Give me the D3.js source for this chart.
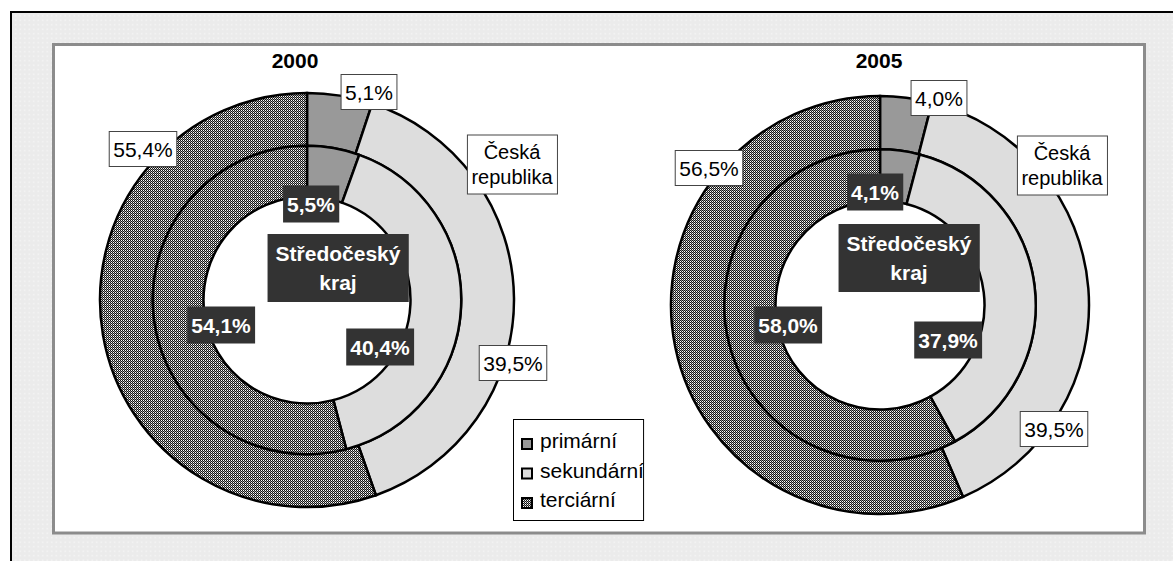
<!DOCTYPE html>
<html>
<head>
<meta charset="utf-8">
<script src="https://cdn.jsdelivr.net/npm/d3@7"></script>
<style>
  body { margin: 0; background: #fff; }
  text { font-family: "Liberation Sans", Arial, sans-serif; }
</style>
</head>
<body>
<svg width="1173" height="561"></svg>
<script>
var categories = ["primární", "sekundární", "terciární"];
var years = ["2000", "2005"];
var czech2000 = [5.1, 39.5, 55.4];
var region2000 = [5.5, 40.4, 54.1];
var czech2005 = [4.0, 39.5, 56.5];
var region2005 = [4.1, 37.9, 58.0];
var outerName = ["Česká", "republika"];
var innerName = ["Středočeský", "kraj"];

(function() {
    var svg = d3.select("svg");
    var defs = svg.append("defs");

    // dotted grey chart background
    var bg = defs.append("pattern").attr("id", "bgdots")
        .attr("patternUnits", "userSpaceOnUse").attr("width", 4.5).attr("height", 4.5);
    bg.append("rect").attr("width", 4.5).attr("height", 4.5).attr("fill", "#ebebeb");
    bg.append("rect").attr("x", 1.5).attr("y", 1.5).attr("width", 1.5).attr("height", 1.5).attr("fill", "#f6f6f6");

    // dotted pattern for terciární
    var chk = defs.append("pattern").attr("id", "checker")
        .attr("patternUnits", "userSpaceOnUse").attr("width", 2).attr("height", 2);
    chk.append("rect").attr("width", 2).attr("height", 2).attr("fill", "#151515").attr("shape-rendering", "crispEdges");
    chk.append("rect").attr("width", 1).attr("height", 1).attr("fill", "#fff").attr("shape-rendering", "crispEdges");
    chk.append("rect").attr("x", 1).attr("y", 1).attr("width", 1).attr("height", 1).attr("fill", "#999").attr("shape-rendering", "crispEdges");

    var color = d3.scaleOrdinal()
        .domain(categories)
        .range(["#999999", "#dddddd", "url(#checker)"]);

    svg.append("rect")
        .attr("x", 11).attr("y", 12).attr("width", 1300).attr("height", 700)
        .attr("fill", "url(#bgdots)").attr("stroke", "#000").attr("stroke-width", 2);

    svg.append("rect")
        .attr("x", 53.5).attr("y", 44.5).attr("width", 1091).attr("height", 488.5)
        .attr("fill", "#fff").attr("stroke", "#8c8c8c").attr("stroke-width", 3);

    var fmt = d3.formatLocale({decimal: ",", thousands: " ", grouping: [3], currency: ["", " Kč"]}).format(".1f");

    var pie = d3.pie().sort(null).value(function(d) { return d; });

    var charts = [
        {title: years[0], outer: czech2000, inner: region2000, cx: 307, cy: 300, r: 207, titleX: 295,
         outerLabels: [[62, -208], [206, 63], [-164, -151]],
         innerLabels: [[4, -96], [73, 47], [-86, 25]],
         outerNamePos: [205, -136], innerNamePos: [31, -32]},
        {title: years[1], outer: czech2005, inner: region2005, cx: 880, cy: 305, r: 209, titleX: 879,
         outerLabels: [[59, -207], [174, 124], [-171, -137]],
         innerLabels: [[-5, -113], [68, 35], [-92, 20]],
         outerNamePos: [182, -140], innerNamePos: [29, -47]}
    ];

    function boxLabel(g, x, y, lines, o) {
        var lab = g.append("g").attr("transform", "translate(" + x + "," + y + ")");
        var rect = lab.append("rect");
        var lh = o.lineHeight || 25;
        var t = lab.append("text")
            .attr("text-anchor", "middle")
            .attr("font-size", o.size || 21)
            .attr("font-weight", o.bold ? "bold" : "normal")
            .attr("fill", o.dark ? "#fff" : "#000");
        lines.forEach(function(s, i) {
            t.append("tspan").attr("x", 0)
                .attr("y", -(lines.length - 1) * lh / 2 + i * lh + 7.5)
                .text(s);
        });
        var b = t.node().getBBox();
        rect.attr("x", b.x - o.padX).attr("y", b.y - o.padY)
            .attr("width", b.width + 2 * o.padX).attr("height", b.height + 2 * o.padY)
            .attr("fill", o.dark ? "#333333" : "#fff")
            .attr("stroke", o.dark ? "none" : "#444")
            .attr("stroke-width", 1);
    }

    charts.forEach(function(c) {
        var g = svg.append("g").attr("transform", "translate(" + c.cx + "," + c.cy + ")");
        var outerArc = d3.arc().innerRadius(c.r * 0.745).outerRadius(c.r);
        var innerArc = d3.arc().innerRadius(c.r * 0.5).outerRadius(c.r * 0.745);

        g.selectAll(".outer").data(pie(c.outer)).enter().append("path")
            .attr("class", "outer")
            .attr("d", outerArc)
            .attr("fill", function(d, i) { return color(categories[i]); })
            .attr("stroke", "#000").attr("stroke-width", 2.5);

        g.selectAll(".inner").data(pie(c.inner)).enter().append("path")
            .attr("class", "inner")
            .attr("d", innerArc)
            .attr("fill", function(d, i) { return color(categories[i]); })
            .attr("stroke", "#000").attr("stroke-width", 2.5);

        svg.append("text")
            .attr("x", c.titleX).attr("y", 68)
            .attr("text-anchor", "middle")
            .attr("font-size", 21).attr("font-weight", "bold")
            .text(c.title);

        c.outer.forEach(function(v, i) {
            boxLabel(g, c.outerLabels[i][0], c.outerLabels[i][1], [fmt(v) + "%"], {padX: 4, padY: 6});
        });
        boxLabel(g, c.outerNamePos[0], c.outerNamePos[1], outerName, {padX: 4, padY: 6, lineHeight: 25, size: 20});

        c.inner.forEach(function(v, i) {
            boxLabel(g, c.innerLabels[i][0], c.innerLabels[i][1], [fmt(v) + "%"], {padX: 4, padY: 7, bold: true, dark: true});
        });
        boxLabel(g, c.innerNamePos[0], c.innerNamePos[1], innerName, {padX: 8, padY: 8, lineHeight: 29, bold: true, dark: true});
    });

    // legend
    var legend = svg.append("g").attr("transform", "translate(513,419)");
    var lbox = legend.append("rect")
        .attr("fill", "#fff").attr("stroke", "#000").attr("stroke-width", 1);
    var item = legend.selectAll(".item").data(categories).enter().append("g")
        .attr("class", "item")
        .attr("transform", function(d, i) { return "translate(0," + (20 + i * 29.5) + ")"; });
    item.append("rect")
        .attr("x", 9).attr("y", 0).attr("width", 10).attr("height", 10)
        .attr("fill", function(d) { return color(d); })
        .attr("stroke", "#000").attr("stroke-width", 2);
    item.append("text")
        .attr("x", 27).attr("y", 9)
        .attr("font-size", 21)
        .text(function(d) { return d; });
    var lb = legend.node().getBBox();
    lbox.attr("x", 0.5).attr("y", 0.5).attr("width", lb.width + 8).attr("height", 101);
})();
</script>
</body>
</html>
